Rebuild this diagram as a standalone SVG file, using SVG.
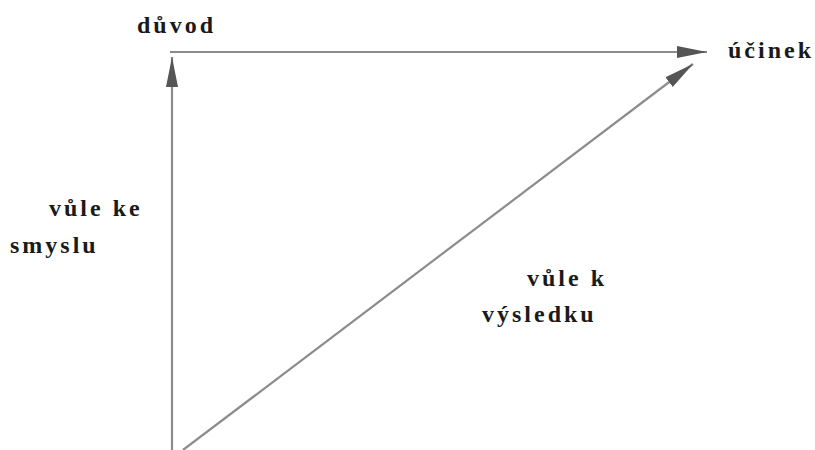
<svg xmlns="http://www.w3.org/2000/svg" width="815" height="450" viewBox="0 0 815 450">
<defs>
<marker id="ah" markerUnits="userSpaceOnUse" markerWidth="32" markerHeight="14" refX="30" refY="7" orient="auto">
<path d="M0,1 L30,7 L0,13 Z" fill="#555555"/>
</marker>
</defs>
<rect width="815" height="450" fill="#ffffff"/>
<g id="connectors" stroke="#8c8c8c" stroke-width="2.2" fill="none">
<line x1="172" y1="450" x2="172" y2="57" marker-end="url(#ah)"/>
<line x1="170" y1="52" x2="707" y2="52" marker-end="url(#ah)"/>
<line x1="183" y1="450" x2="693" y2="64" marker-end="url(#ah)"/>
</g>
<g font-family="'Liberation Serif', 'Times New Roman', serif" font-weight="bold" font-size="24" letter-spacing="3" fill="#1a1a1a">
<g id="node-duvod"><text x="137" y="33">důvod</text></g>
<g id="node-ucinek"><text x="728" y="58">účinek</text></g>
<g id="label-smysl"><text x="49" y="216">vůle ke</text><text x="10" y="253">smyslu</text></g>
<g id="label-vysledek"><text x="527" y="286">vůle k</text><text x="482" y="322">výsledku</text></g>
</g>
</svg>
